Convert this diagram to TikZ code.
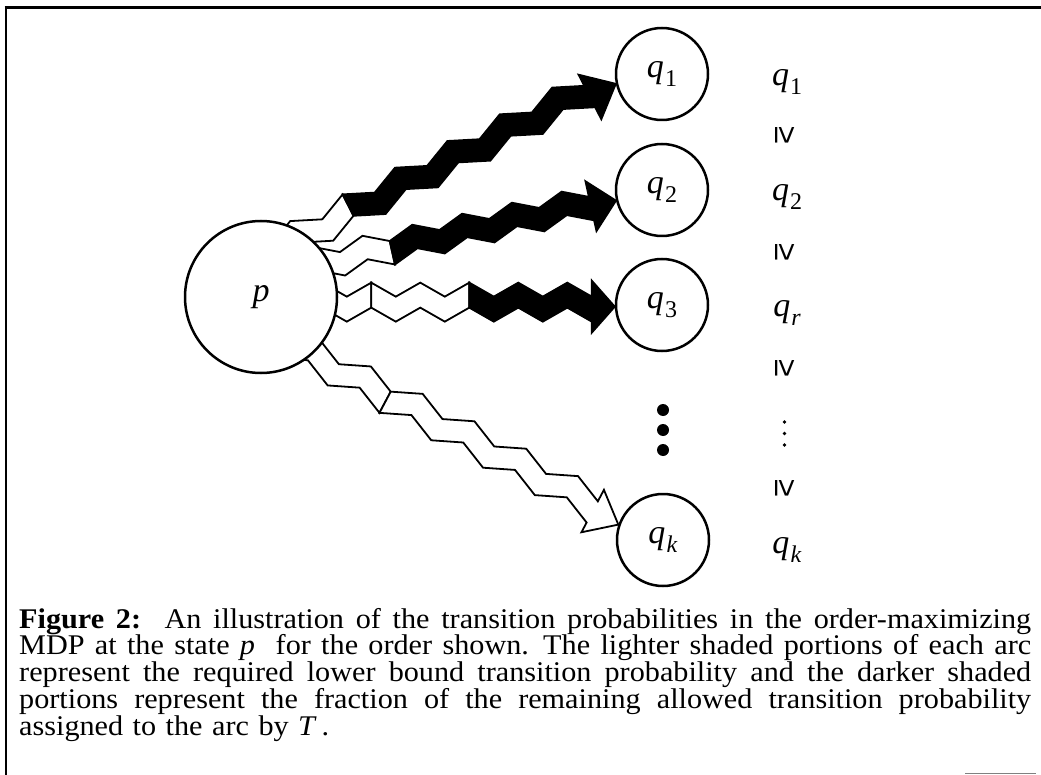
\documentclass[tikz,border=0pt]{standalone}
\usepackage{fontspec}
\setmainfont{Liberation Serif}
\newfontfamily\capfont[FakeStretch=1.06]{Liberation Serif}
\newfontfamily\symfont{Liberation Sans}
\usepackage{graphicx}

\newcommand{\qq}[1]{\textit{q}\kern0.03em\raisebox{-0.28em}{\fontsize{24}{26}\selectfont #1}}
\newcommand{\geqrot}{\rotatebox{-90}{\symfont\fontsize{32}{34}\selectfont ≥}}
\newcommand{\capline}[1]{\leavevmode\hbox to 1012pt{\spaceskip=0.25em plus 0.6em minus 0.1em #1}}

% zig-zag band between vertex m=#1 and m=#2 (local frame: origin at tip, u along arrow)
\newcommand{\zzband}[3]{%
  \pgfmathtruncatemacro\zzb{#1+1}%
  \filldraw[zzline, fill=#3]
    ({-\zhl-#1*\zs},{\zc+\za*(1-2*mod(#1,2))-\zh})
    \foreach \m in {\zzb,...,#2}{ -- ({-\zhl-\m*\zs},{\zc+\za*(1-2*mod(\m,2))-\zh}) }
    \foreach \m in {#2,...,#1}{ -- ({-\zhl-\m*\zs},{\zc+\za*(1-2*mod(\m,2))+\zh}) }
    -- cycle;}
% head piece with band from m=0 to m=#1
\newcommand{\zzhead}[2]{%
  \filldraw[zzline, fill=#2]
    (0,0) -- (-\zhl,\zhw) -- ({-\zhl},{\zc+\za+\zh})
    \foreach \m in {1,...,#1}{ -- ({-\zhl-\m*\zs},{\zc+\za*(1-2*mod(\m,2))+\zh}) }
    \foreach \m in {#1,...,0}{ -- ({-\zhl-\m*\zs},{\zc+\za*(1-2*mod(\m,2))-\zh}) }
    -- (-\zhl,-\zhw) -- cycle;}

\tikzset{
  state/.style={circle, draw, line width=2.5pt, fill=white, inner sep=0pt,
    font=\fontsize{34}{38}\selectfont},
  zzline/.style={draw=black, line width=1.8pt, line join=miter, miter limit=4},
  collabel/.style={font=\fontsize{34}{38}\selectfont, inner sep=0pt},
  bigdot/.style={circle, fill=black, inner sep=0pt, minimum size=12pt},
  smalldot/.style={circle, fill=black, inner sep=0pt, minimum size=3.8pt},
}

\begin{document}
\begin{tikzpicture}[x=1pt,y=-1pt]
\useasboundingbox (0,0) rectangle (1041,775);
\fill[white] (0,0) rectangle (1041,775);

% frame
\draw[line width=3pt] (4.5,8) -- (1041,8);
\draw[line width=2.6pt] (6,8) -- (6,775);
\draw[line width=1pt, gray] (965,773.5) -- (1036,773.5);

% target states
\node[state, minimum size=92pt] (q1) at (662,74) {\qq{1}};
\node[state, minimum size=92pt] (q2) at (662,190) {\qq{2}};
\node[state, minimum size=92pt] (q3) at (662,305) {\qq{3}};
\node[state, minimum size=92pt] (qk) at (663,540) {\qq{\textit{k}}};

% tips of the arcs
\coordinate (t1) at (q1.192);
\coordinate (t2) at (q2.193);
\coordinate (t3) at (q3.182);
\coordinate (tk) at (qk.161.5);

% arc to q1
\begin{scope}[shift={(t1)}, rotate=27]
  \def\zs{29.4}\def\za{6.5}\def\zc{-7}\def\zh{12}\def\zhl{29}\def\zhw{25}
  \zzband{9}{12}{white}
  \zzhead{9}{black}
\end{scope}
% arc to q2
\begin{scope}[shift={(t2)}, rotate=12.5]
  \def\zs{25.5}\def\za{5.5}\def\zc{-3}\def\zh{12}\def\zhl{25.6}\def\zhw{25.5}
  \zzband{8}{13}{white}
  \zzhead{8}{black}
\end{scope}
% arc to q3
\begin{scope}[shift={(t3)}, rotate=0]
  \def\zs{24.5}\def\za{7}\def\zc{-4.5}\def\zh{12.5}\def\zhl{23}\def\zhw{26}
  \zzband{9}{13}{white}
  \zzband{5}{9}{white}
  \zzhead{5}{black}
\end{scope}
% arc to qk
\begin{scope}[shift={(tk)}, rotate=-27.9]
  \def\zs{29.3}\def\za{6.5}\def\zc{-5.5}\def\zh{12}\def\zhl{29}\def\zhw{24}
  \zzband{8}{12}{white}
  \zzhead{8}{white}
\end{scope}

% source state
\node[state, minimum size=152pt] (p) at (261,297) {\textit{p}};

% dots between q3 and qk
\node[bigdot] (d1) at (663,410) {};
\node[bigdot] (d2) at (663,430) {};
\node[bigdot] (d3) at (663,450) {};

% order column
\node[collabel] (o1) at (787,82) {\qq{1}};
\node[inner sep=0pt] (g1) at (785,135) {\geqrot};
\node[collabel] (o2) at (787,197) {\qq{2}};
\node[inner sep=0pt] (g2) at (785,252) {\geqrot};
\node[collabel] (o3) at (787,313) {\qq{\textit{r}}};
\node[inner sep=0pt] (g3) at (785,368) {\geqrot};
\node[smalldot] (v1) at (784.5,422) {};
\node[smalldot] (v2) at (784.5,433.5) {};
\node[smalldot] (v3) at (784.5,445) {};
\node[inner sep=0pt] (g4) at (785,488) {\geqrot};
\node[collabel] (o4) at (787,550) {\qq{\textit{k}}};

% caption
\node[anchor=north west, inner sep=0pt, text width=1012pt, align=left,
      font=\capfont\fontsize{28.5}{26.7}\selectfont] (cap) at (19,608)
{\capline{\textbf{Figure 2:}\ \ An illustration of the transition probabilities in the order-maximizing}\\
\capline{MDP at the state \textit{p}\ \ for the order shown. The lighter shaded portions of each arc}\\
\capline{represent the required lower bound transition probability and the darker shaded}\\
\capline{portions represent the fraction of the remaining allowed transition probability}\\
assigned to the arc by \textit{T}\,.};
\end{tikzpicture}
\end{document}
